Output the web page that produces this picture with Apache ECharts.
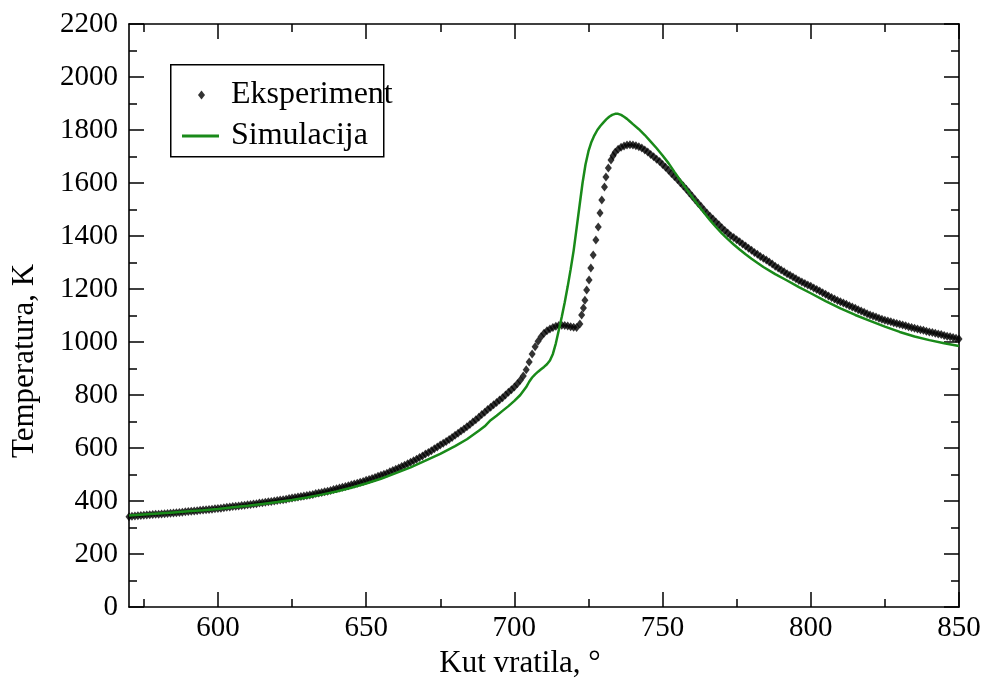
<!DOCTYPE html>
<html>
<head>
<meta charset="utf-8">
<script src="https://cdn.jsdelivr.net/npm/echarts@6/dist/echarts.min.js"></script>
<style>
  html, body { margin: 0; padding: 0; background: #ffffff; }
  #chart { width: 987px; height: 684px; }
</style>
</head>
<body>
<div id="chart"></div>
<script>
// Measured cylinder temperature (diamonds) and simulated temperature (line) vs crank angle.

const expAngle = [
  570,571,572,573,574,575,576,577,578,579,
  580,581,582,583,584,585,586,587,588,589,
  590,591,592,593,594,595,596,597,598,599,
  600,601,602,603,604,605,606,607,608,609,
  610,611,612,613,614,615,616,617,618,619,
  620,621,622,623,624,625,626,627,628,629,
  630,631,632,633,634,635,636,637,638,639,
  640,641,642,643,644,645,646,647,648,649,
  650,651,652,653,654,655,656,657,658,659,
  660,661,662,663,664,665,666,667,668,669,
  670,671,672,673,674,675,676,677,678,679,
  680,681,682,683,684,685,686,687,688,689,
  690,691,692,693,694,695,696,697,698,699,
  700,701,702,703,704,705,706,707,708,709,
  710,711,712,713,714,715,716,717,718,719,
  720,721,722.1,
  722.7,723.3,723.8,724.4,725.2,725.8,726.6,727.5,728.3,728.9,
  729.5,730.4,730.9,731.7,732.6,733.3,
  734,735,736,737,738,739,740,741,742,743,
  744,745,746,747,748,749,750,751,752,753,
  754,755,756,757,758,759,760,761,762,763,
  764,765,766,767,768,769,770,771,772,773,
  774,775,776,777,778,779,780,781,782,783,
  784,785,786,787,788,789,790,791,792,793,
  794,795,796,797,798,799,800,801,802,803,
  804,805,806,807,808,809,810,811,812,813,
  814,815,816,817,818,819,820,821,822,823,
  824,825,826,827,828,829,830,831,832,833,
  834,835,836,837,838,839,840,841,842,843,
  844,845,846,847,848,849,850
];

const expTemp = [
  341,342,343,344,345,346,347,348,349,350,
  350,351,352,353,354,355,356,357,358,359,
  360,361,362,363,365,366,367,368,369,371,
  372,373,375,376,377,379,380,381,383,384,
  386,387,389,390,392,393,395,397,398,400,
  402,404,405,407,409,411,413,415,417,419,
  421,423,425,428,430,432,435,437,440,443,
  446,449,452,455,458,461,464,467,471,474,
  478,481,485,489,493,497,501,505,510,515,
  520,525,530,535,541,546,552,558,564,570,
  577,583,590,597,604,611,618,625,632,640,
  648,656,664,672,680,689,698,707,716,726,
  735,745,754,763,772,781,790,800,810,820,
  830,842,856,872,895,925,955,982,1003,1020,
  1033,1042,1049,1055,1059,1062,1063,1062,1060,1058,
  1056,1055,1068,
  1102,1128,1158,1196,1234,1279,1328,1385,1434,1487,
  1536,1585,1623,1657,1687,1703,
  1716,1727,1735,1740,1743,1744,1743,1741,1737,1732,
  1725,1717,1708,1699,1690,1681,1670,1659,1648,1636,
  1625,1613,1601,1589,1576,1563,1550,1537,1524,1511,
  1498,1486,1475,1464,1453,1442,1431,1421,1411,1401,
  1394,1386,1378,1370,1362,1354,1346,1338,1331,1323,
  1316,1309,1302,1294,1286,1279,1272,1265,1258,1252,
  1245,1239,1232,1226,1221,1215,1210,1204,1198,1192,
  1186,1180,1174,1168,1162,1157,1152,1147,1142,1137,
  1132,1127,1122,1117,1112,1107,1102,1098,1094,1090,
  1086,1082,1079,1076,1073,1070,1067,1064,1061,1058,
  1055,1052,1049,1046,1044,1041,1038,1036,1033,1030,
  1028,1025,1022,1020,1017,1014,1011
];

const simAngle = [
  570,575,580,585,590,595,600,605,610,615,
  620,625,630,635,640,645,650,655,660,665,
  670,675,680,684,688,690,692,694,696,698,
  700,702,704,705,706,707,708,709,710,711,
  712,713,714,715,716,717,718,719,720,721,
  722,723,724,725,726,727,728,729,730,731,
  732,733,734,735,736,737,738,739,740,742,
  744,746,748,750,752,754,756,758,760,762,
  764,766,768,770,772,774,776,778,780,784,
  788,792,796,800,805,810,815,820,825,830,
  835,840,845,850
];

const simTemp = [
  345,349,353,357,361,365,370,376,382,389,
  396,404,413,424,436,450,466,484,505,527,
  552,578,607,633,665,682,705,722,740,758,
  778,800,830,850,866,878,888,897,906,916,
  930,955,995,1045,1095,1150,1210,1275,1345,1430,
  1515,1600,1670,1720,1755,1780,1800,1815,1828,1840,
  1850,1857,1861,1861,1857,1850,1842,1832,1822,1803,
  1781,1756,1731,1704,1675,1642,1610,1578,1547,1517,
  1488,1460,1434,1410,1388,1368,1349,1331,1314,1283,
  1256,1232,1207,1184,1154,1127,1102,1080,1058,1038,
  1021,1007,995,985
];

const xMajorTicks = [600, 650, 700, 750, 800, 850];
const xMinorTicks = [575, 625, 675, 725, 775, 825];

const FONT = '"Liberation Serif", "Times New Roman", Times, serif';
const INK = '#000000';
const SIM_GREEN = '#198a19';

const chart = echarts.init(document.getElementById('chart'), null, { renderer: 'canvas' });

const axisLine = { show: true, lineStyle: { color: INK, width: 1.6 } };
const tickLine = { color: INK, width: 1.5 };
const labelStyle = { color: INK, fontFamily: FONT, fontSize: 29 };
const plainNumber = (v) => String(v);

function xAxisDef(position, ticks, length, showLine, showLabels) {
  return {
    type: 'value', min: 570, max: 850, position: position,
    axisLine: showLine ? axisLine : { show: false },
    axisTick: { show: true, inside: true, length: length, customValues: ticks, lineStyle: tickLine },
    axisLabel: showLabels
      ? Object.assign({ show: true, customValues: ticks, margin: 7, formatter: plainNumber }, labelStyle)
      : { show: false },
    splitLine: { show: false }
  };
}

function yAxisDef(position, showLabels) {
  return {
    type: 'value', min: 0, max: 2200, interval: 200, position: position,
    axisLine: axisLine,
    axisTick: { show: true, inside: true, length: 15, lineStyle: tickLine },
    minorTick: { show: true, splitNumber: 2, length: 8, lineStyle: tickLine },
    axisLabel: showLabels
      ? Object.assign({ show: true, margin: 11, formatter: plainNumber }, labelStyle)
      : { show: false },
    splitLine: { show: false }
  };
}

const option = {
  animation: false,
  backgroundColor: '#ffffff',
  grid: { left: 129, top: 24, width: 830, height: 583, containLabel: false },
  xAxis: [
    xAxisDef('bottom', xMajorTicks, 15, true, true),
    xAxisDef('bottom', xMinorTicks, 8, false, false),
    xAxisDef('top', xMajorTicks, 15, true, false),
    xAxisDef('top', xMinorTicks, 8, false, false)
  ],
  yAxis: [
    yAxisDef('left', true),
    yAxisDef('right', false)
  ],
  legend: [
    {
      data: ['Eksperiment'], left: 193, top: 72, orient: 'vertical',
      itemWidth: 7, itemHeight: 9, selectedMode: false,
      textStyle: { color: INK, fontFamily: FONT, fontSize: 32, lineHeight: 36, padding: [0, 0, 0, 21] }
    },
    {
      data: [{ name: 'Simulacija', icon: 'rect' }], left: 177, top: 113, orient: 'vertical',
      itemWidth: 37, itemHeight: 3, selectedMode: false,
      itemStyle: { color: SIM_GREEN },
      textStyle: { color: INK, fontFamily: FONT, fontSize: 32, lineHeight: 36, padding: [0, 0, 0, 7] }
    }
  ],
  graphic: [
    {
      type: 'rect', left: 170, top: 64, z: 5,
      shape: { width: 213, height: 92 },
      style: { fill: 'rgba(0,0,0,0)', stroke: INK, lineWidth: 1.5 }
    },
    {
      type: 'text', x: 520, y: 664,
      style: { text: 'Kut vratila, °', font: '31px ' + FONT, fill: INK, textAlign: 'center', textVerticalAlign: 'middle' }
    },
    {
      type: 'text', x: 25, y: 361, rotation: Math.PI / 2,
      style: { text: 'Temperatura, K', font: '31px ' + FONT, fill: INK, textAlign: 'center', textVerticalAlign: 'middle' }
    }
  ],
  series: [
    {
      name: 'Eksperiment', type: 'scatter', xAxisIndex: 0, yAxisIndex: 0,
      data: expAngle.map((a, i) => [a, expTemp[i]]),
      symbol: 'diamond', symbolSize: [7, 9],
      itemStyle: { color: INK },
      z: 2
    },
    {
      name: 'Simulacija', type: 'line', xAxisIndex: 0, yAxisIndex: 0,
      data: simAngle.map((a, i) => [a, simTemp[i]]),
      symbol: 'none', smooth: false,
      lineStyle: { color: SIM_GREEN, width: 2.5 },
      itemStyle: { color: SIM_GREEN },
      z: 3
    }
  ]
};

chart.setOption(option);
</script>
</body>
</html>
